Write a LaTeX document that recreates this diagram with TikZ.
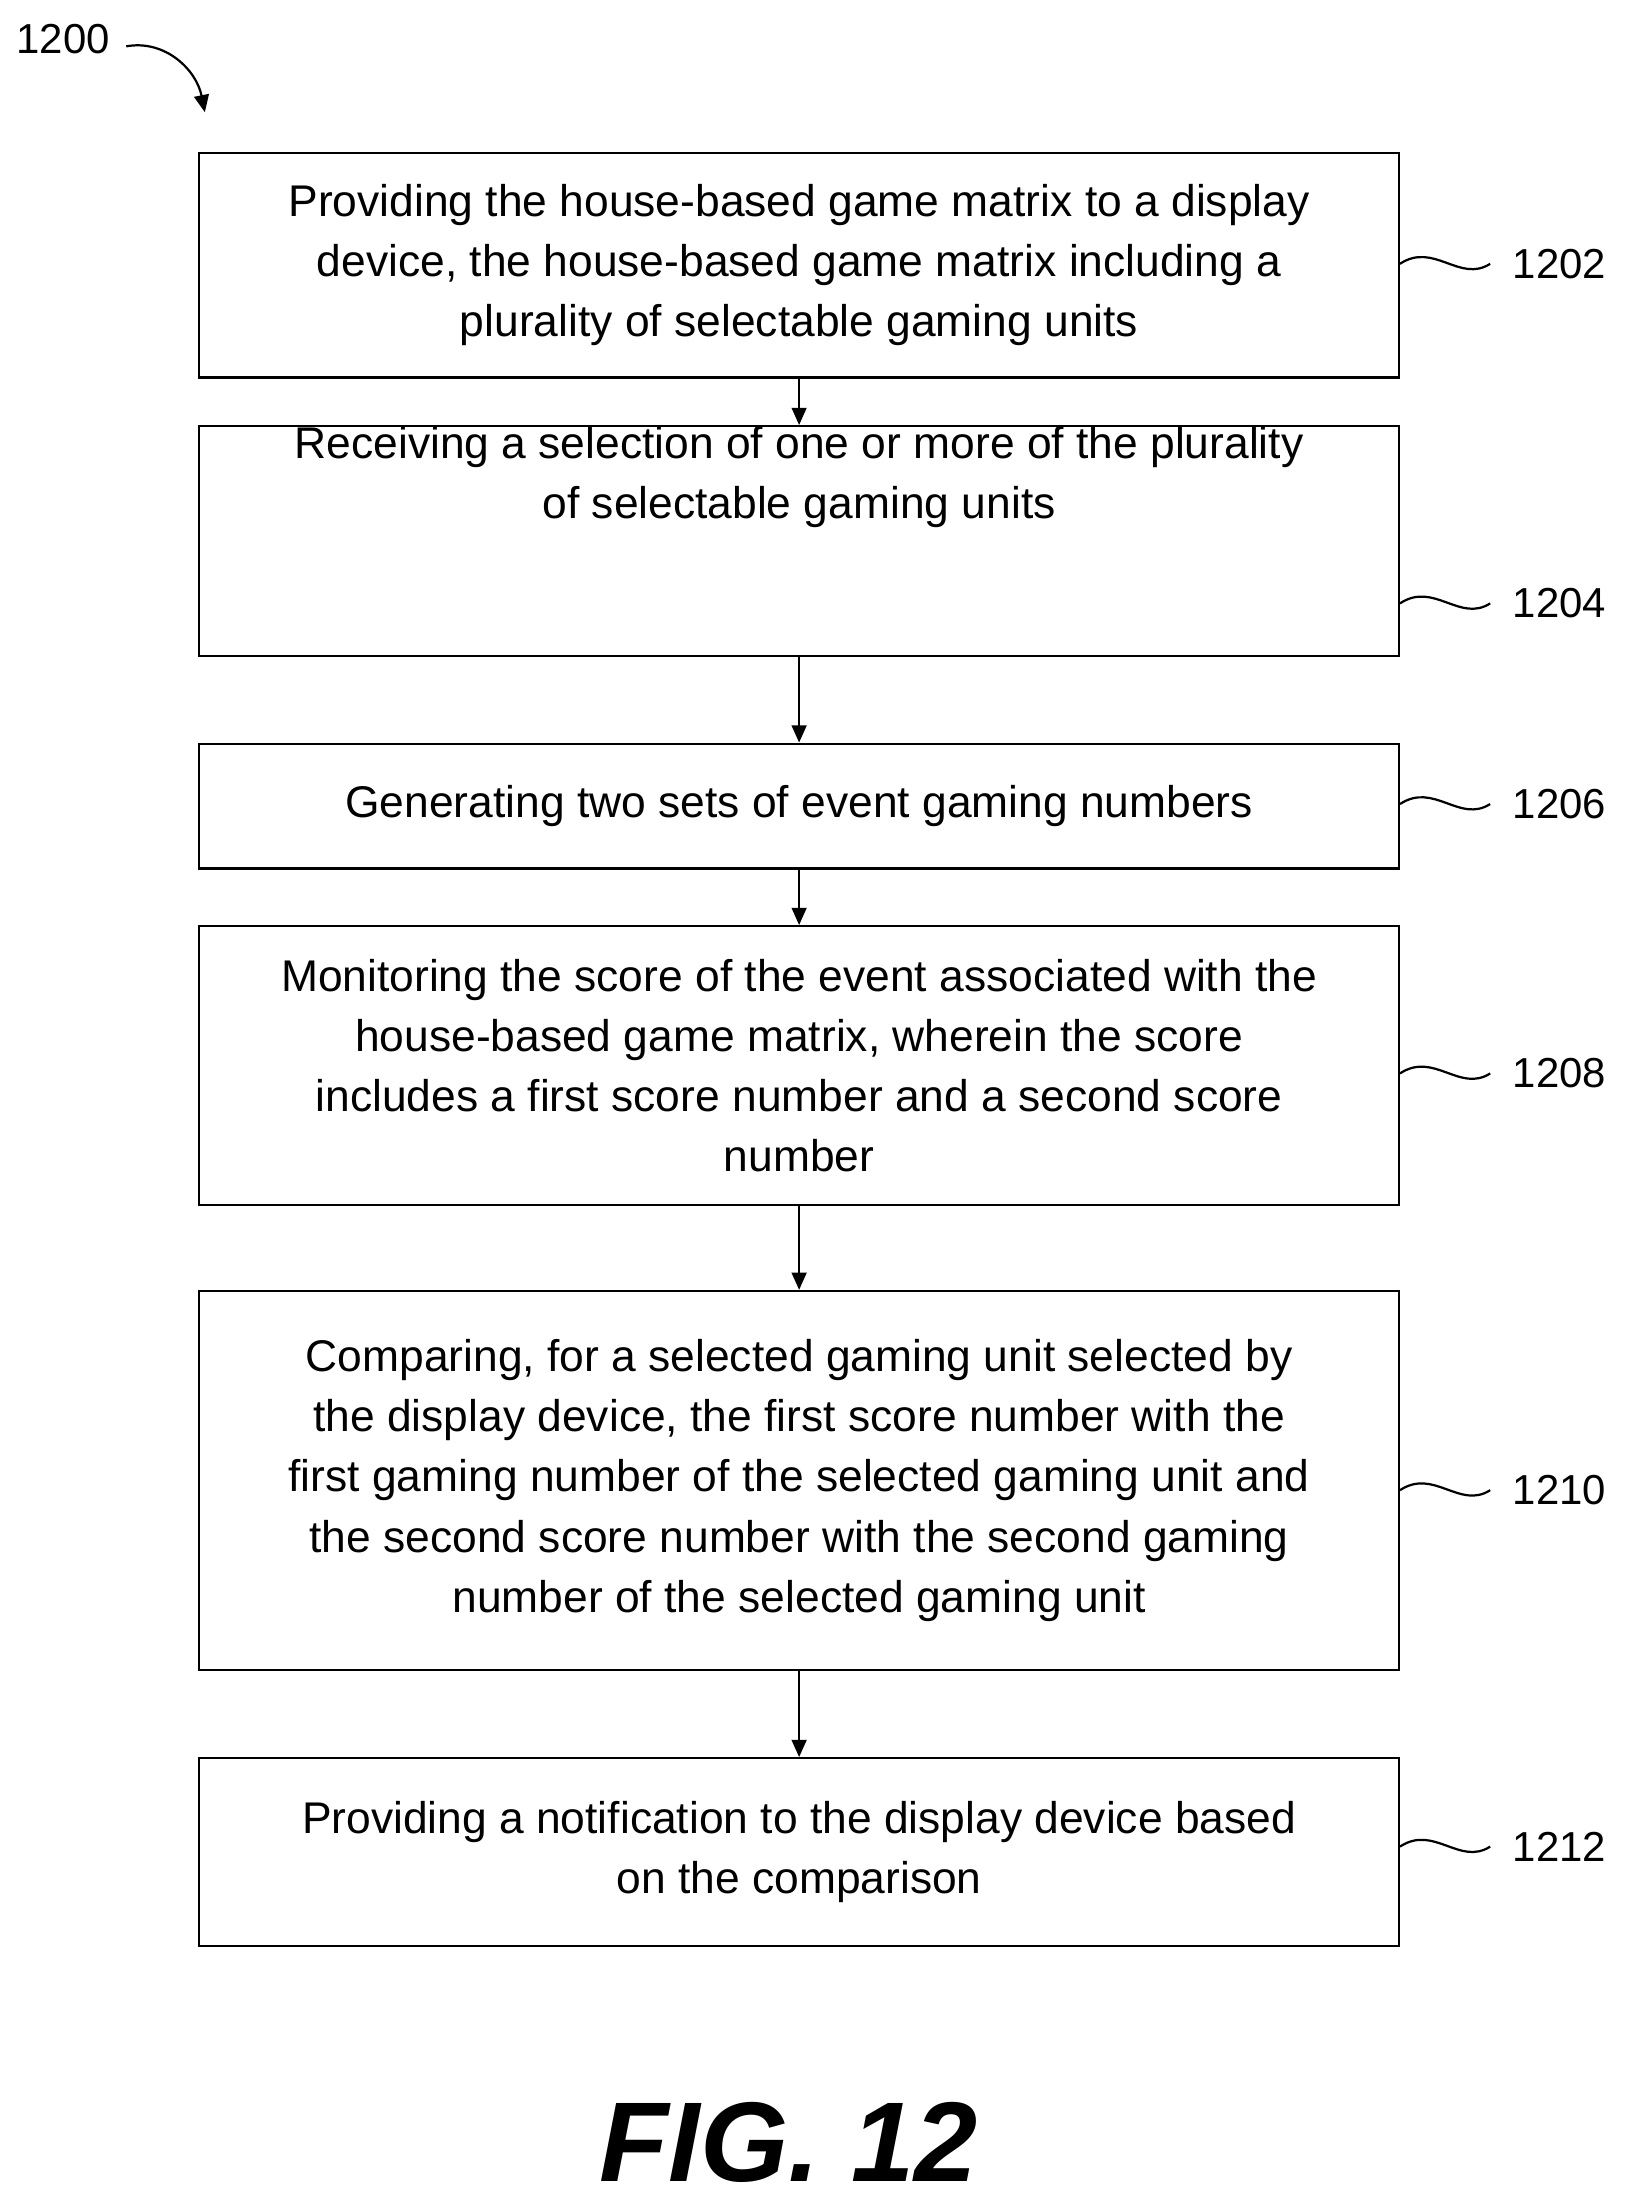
\documentclass[tikz,border=0pt]{standalone}
\usepackage{fontspec}
\setmainfont{Liberation Sans}
\usetikzlibrary{arrows.meta}
\begin{document}
\begin{tikzpicture}[x=0.02cm,y=-0.02cm,
  box/.style={draw,line width=0.9pt,minimum width=17.1cm,align=center,font=\fontsize{18}{24.4}\selectfont,inner sep=0pt},
  lbl/.style={font=\fontsize{17}{20}\selectfont},
  arr/.style={-{Triangle[length=7pt,width=6pt]},line width=0.9pt},
  tl/.style={line width=0.9pt}]
\useasboundingbox (0,0) rectangle (1160,1570);
\node[box,minimum height=3.2cm] (b1) at (569.5,189) {Providing the house-based game matrix to a display\\device, the house-based game matrix including a\\plurality of selectable gaming units};
\node[box,minimum height=3.22cm] (b2) at (569.5,385.5) {Receiving a selection of one or more of the plurality\\of selectable gaming units\\[1.1cm]};
\node[box,minimum height=1.78cm] (b3) at (569.5,574.5) {Generating two sets of event gaming numbers};
\node[box,minimum height=3.98cm] (b4) at (569.5,759.5) {Monitoring the score of the event associated with the\\house-based game matrix, wherein the score\\includes a first score number and a second score\\number};
\node[box,minimum height=5.4cm] (b5) at (569.5,1055) {Comparing, for a selected gaming unit selected by\\the display device, the first score number with the\\first gaming number of the selected gaming unit and\\the second score number with the second gaming\\number of the selected gaming unit};
\node[box,minimum height=2.68cm] (b6) at (569.5,1320) {Providing a notification to the display device based\\on the comparison};
\foreach \a/\b in {b1/b2,b2/b3,b3/b4,b4/b5,b5/b6} \draw[arr] (\a.south) -- (\b.north);
\foreach \n/\y/\t in {b1/188/1202,b2/430/1204,b3/573/1206,b4/765/1208,b5/1062/1210,b6/1316/1212}{
  \coordinate (s\t) at (\n.east |- 0,\y);
  \coordinate (e\t) at (1062,\y);
  \draw[tl] (s\t) .. controls (1022,\y-16) and (1040,\y+14) .. (e\t);
  \node[lbl,anchor=west] (l\t) at (1072,\y) {\t};
}
\node[lbl] (l1200) at (45,28) {1200};
\coordinate (c0) at (90,33);
\coordinate (c1) at (146,80);
\draw[arr] (c0) .. controls (118,28) and (140,50) .. (c1);
\node[font=\fontsize{46}{50}\selectfont\bfseries\itshape] (fig) at (562,1527) {FIG. 12};
\end{tikzpicture}
\end{document}
